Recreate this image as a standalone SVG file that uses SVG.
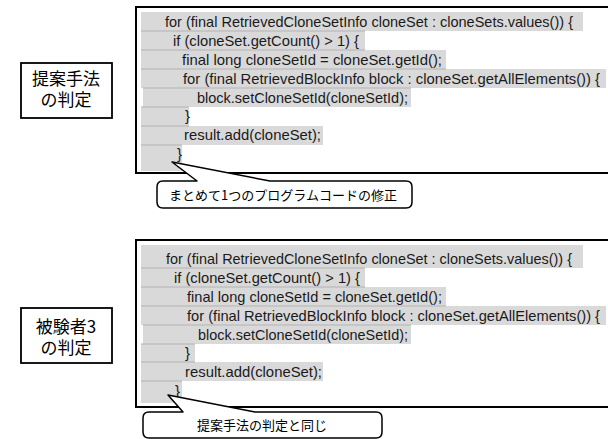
<svg xmlns="http://www.w3.org/2000/svg" width="608" height="439" viewBox="0 0 608 439">
<style>
.bg{fill:#ffffff}
.codebox{fill:none;stroke:#000;stroke-width:2}
.label{fill:#fff;stroke:#000;stroke-width:1.8}
.hl{fill:#d9d9d9}
.sep{stroke:#b3b3b3;stroke-width:1}
.code{font-family:"Liberation Sans",Arial,sans-serif;font-size:15px;fill:#1a1a1a}
.lt{font-family:"Noto Sans CJK JP","Noto Sans",sans-serif;font-size:17px;fill:#000;text-anchor:middle}
.ct{font-family:"Noto Sans CJK JP","Noto Sans",sans-serif;font-size:13px;fill:#000;text-anchor:middle}
.callout{fill:#fff;stroke:#000;stroke-width:1.5;stroke-linejoin:round}
</style>
<rect class="bg" x="0" y="0" width="608" height="439"/>

<g id="code1">
<rect class="hl" x="141" y="12" width="442" height="19"/>
<rect class="hl" x="141" y="31" width="224" height="19"/>
<rect class="hl" x="141" y="50" width="305" height="19"/>
<rect class="hl" x="141" y="69" width="465" height="19"/>
<rect class="hl" x="143" y="88" width="268" height="19"/>
<rect class="hl" x="141" y="107" width="48" height="19"/>
<rect class="hl" x="141" y="126" width="182" height="19"/>
<rect class="hl" x="141" y="145" width="41" height="26"/>
<line class="sep" x1="141" y1="31" x2="365" y2="31"/>
<line class="sep" x1="141" y1="50" x2="365" y2="50"/>
<line class="sep" x1="141" y1="69" x2="446" y2="69"/>
<line class="sep" x1="143" y1="88" x2="411" y2="88"/>
<line class="sep" x1="141" y1="107" x2="189" y2="107"/>
<line class="sep" x1="141" y1="126" x2="189" y2="126"/>
<line class="sep" x1="141" y1="145" x2="182" y2="145"/>
<rect class="codebox" x="136" y="7" width="480" height="166"/>
<text class="code" x="165" y="27" textLength="408" lengthAdjust="spacingAndGlyphs">for (final RetrievedCloneSetInfo cloneSet : cloneSets.values()) {</text>
<text class="code" x="173" y="46" textLength="186" lengthAdjust="spacingAndGlyphs">if (cloneSet.getCount() &gt; 1) {</text>
<text class="code" x="182" y="65" textLength="260" lengthAdjust="spacingAndGlyphs">final long cloneSetId = cloneSet.getId();</text>
<text class="code" x="183" y="84" textLength="417" lengthAdjust="spacingAndGlyphs">for (final RetrievedBlockInfo block : cloneSet.getAllElements()) {</text>
<text class="code" x="197" y="103" textLength="211" lengthAdjust="spacingAndGlyphs">block.setCloneSetId(cloneSetId);</text>
<text class="code" x="185" y="121">}</text>
<text class="code" x="184" y="140" textLength="137" lengthAdjust="spacingAndGlyphs">result.add(cloneSet);</text>
<text class="code" x="177" y="159">}</text>
</g>

<g id="code2">
<rect class="hl" x="141" y="245" width="442" height="23"/>
<rect class="hl" x="141" y="268" width="224" height="19"/>
<rect class="hl" x="141" y="287" width="305" height="19"/>
<rect class="hl" x="141" y="306" width="465" height="19"/>
<rect class="hl" x="143" y="325" width="268" height="19"/>
<rect class="hl" x="141" y="344" width="54" height="18"/>
<rect class="hl" x="141" y="362" width="182" height="19"/>
<rect class="hl" x="141" y="381" width="41" height="22"/>
<line class="sep" x1="141" y1="268" x2="365" y2="268"/>
<line class="sep" x1="141" y1="287" x2="365" y2="287"/>
<line class="sep" x1="141" y1="306" x2="446" y2="306"/>
<line class="sep" x1="143" y1="325" x2="411" y2="325"/>
<line class="sep" x1="141" y1="344" x2="195" y2="344"/>
<line class="sep" x1="141" y1="362" x2="195" y2="362"/>
<line class="sep" x1="141" y1="381" x2="182" y2="381"/>
<rect class="codebox" x="136" y="240" width="480" height="167"/>
<text class="code" x="166" y="264" textLength="406" lengthAdjust="spacingAndGlyphs">for (final RetrievedCloneSetInfo cloneSet : cloneSets.values()) {</text>
<text class="code" x="174" y="283" textLength="186" lengthAdjust="spacingAndGlyphs">if (cloneSet.getCount() &gt; 1) {</text>
<text class="code" x="187" y="302" textLength="255" lengthAdjust="spacingAndGlyphs">final long cloneSetId = cloneSet.getId();</text>
<text class="code" x="187" y="321" textLength="413" lengthAdjust="spacingAndGlyphs">for (final RetrievedBlockInfo block : cloneSet.getAllElements()) {</text>
<text class="code" x="198" y="340" textLength="210" lengthAdjust="spacingAndGlyphs">block.setCloneSetId(cloneSetId);</text>
<text class="code" x="185" y="358">}</text>
<text class="code" x="185" y="377" textLength="137" lengthAdjust="spacingAndGlyphs">result.add(cloneSet);</text>
<text class="code" x="175" y="396">}</text>
</g>

<g id="label1">
<rect class="label" x="21" y="63" width="91" height="55"/>
<text class="lt" x="66" y="85">提案手法</text>
<text class="lt" x="66" y="106">の判定</text>
</g>

<g id="label2">
<rect class="label" x="21" y="308" width="91" height="55"/>
<text class="lt" x="66" y="333">被験者3</text>
<text class="lt" x="66" y="354">の判定</text>
</g>

<g id="connectors">
<path class="callout" d="M163,181 H197 L172,162 L270,181 H406 Q412,181 412,187 V202 Q412,208 406,208 H163 Q157,208 157,202 V187 Q157,181 163,181 Z"/>
<path class="callout" d="M149,412 H183 L168,395 L255,412 H376 Q382,412 382,418 V432 Q382,438 376,438 H149 Q143,438 143,432 V418 Q143,412 149,412 Z"/>
</g>

<g id="callout1">
<text class="ct" x="283" y="200">まとめて1つのプログラムコードの修正</text>
</g>
<g id="callout2">
<text class="ct" x="262" y="430">提案手法の判定と同じ</text>
</g>
</svg>
